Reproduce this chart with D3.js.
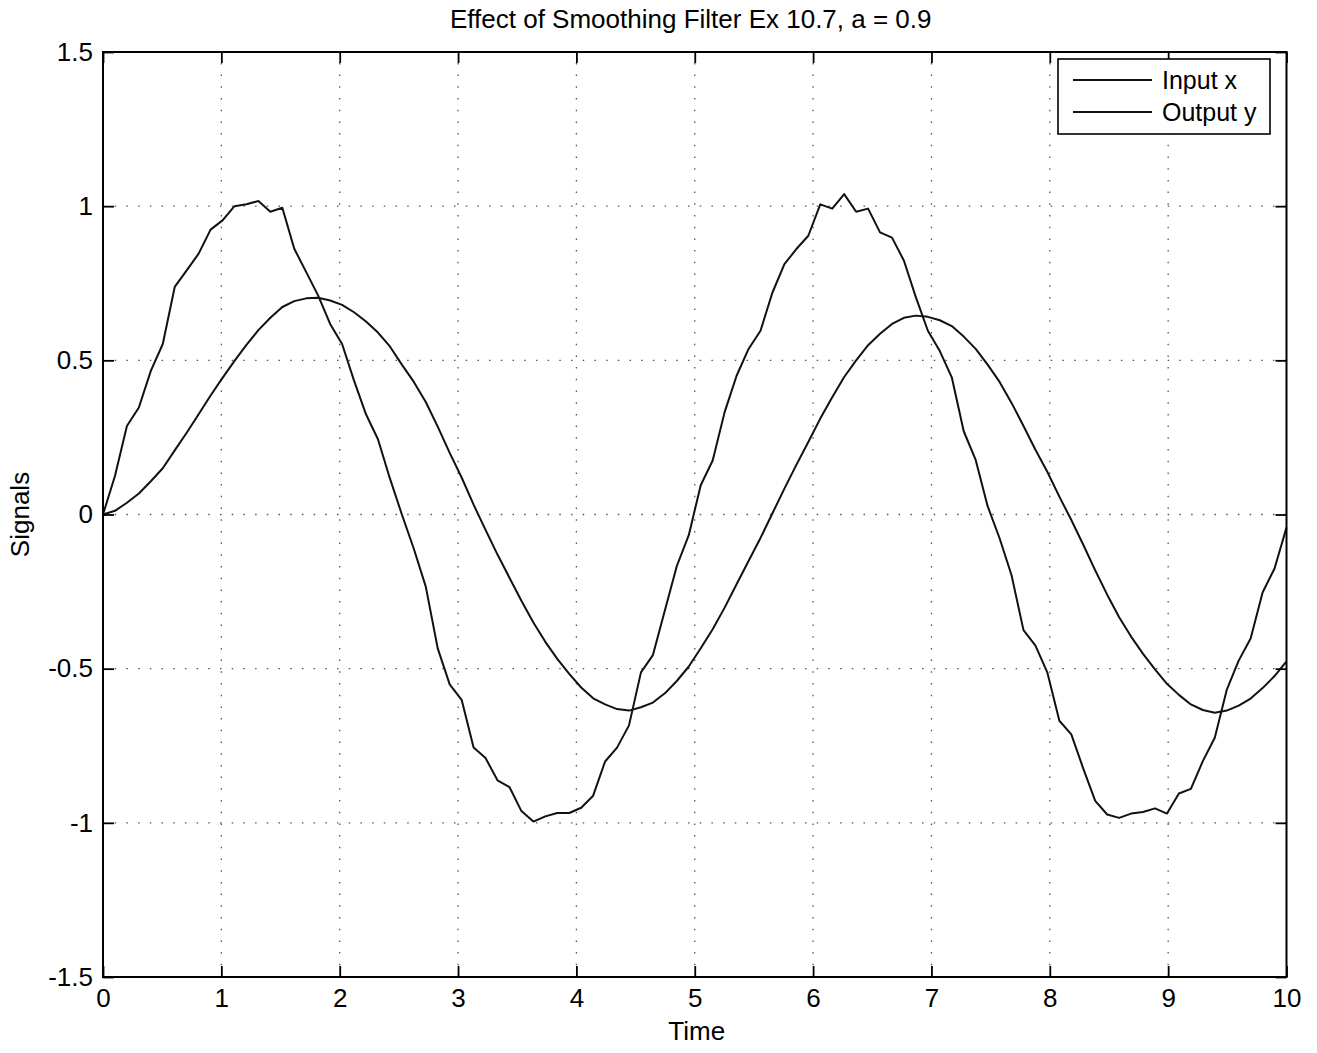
<!DOCTYPE html>
<html>
<head>
<meta charset="utf-8">
<script src="https://cdn.jsdelivr.net/npm/d3@7"></script>
<style>
  html, body { margin: 0; padding: 0; background: #fff; }
  svg text { font-family: "Liberation Sans", Arial, Helvetica, sans-serif; fill: #000; }
</style>
</head>
<body>
<svg id="chart" width="1317" height="1053"></svg>
<script>
// ---------------- data ----------------
const titleText = "Effect of Smoothing Filter Ex 10.7, a = 0.9";
const xLabelText = "Time";
const yLabelText = "Signals";
const seriesNames = ["Input x", "Output y"];

const xTicks = [0, 1, 2, 3, 4, 5, 6, 7, 8, 9, 10];
const xTickLabels = ["0", "1", "2", "3", "4", "5", "6", "7", "8", "9", "10"];
const yTicks = [-1.5, -1, -0.5, 0, 0.5, 1, 1.5];
const yTickLabels = ["-1.5", "-1", "-0.5", "0", "0.5", "1", "1.5"];

// sample times: 100 samples spanning 0..10
const nSamples = 100;
const timeStart = 0, timeEnd = 10;

// Input x (noisy sine), one value per sample
const inputX = [
  0.00, 0.125, 0.287, 0.347, 0.466, 0.553, 0.738, 0.792, 0.846, 0.924,
  0.954, 1.000, 1.006, 1.017, 0.982, 0.995, 0.862, 0.786, 0.710, 0.618,
  0.553, 0.434, 0.325, 0.244, 0.117, 0.000, -0.111, -0.234, -0.434, -0.551,
  -0.601, -0.756, -0.790, -0.862, -0.884, -0.962, -0.996, -0.979, -0.968, -0.968,
  -0.951, -0.912, -0.801, -0.756, -0.684, -0.512, -0.456, -0.311, -0.167, -0.067,
  0.095, 0.175, 0.332, 0.450, 0.537, 0.596, 0.720, 0.812, 0.861, 0.904,
  1.006, 0.992, 1.039, 0.982, 0.992, 0.915, 0.898, 0.823, 0.704, 0.596,
  0.530, 0.445, 0.270, 0.177, 0.027, -0.077, -0.197, -0.375, -0.425, -0.513,
  -0.669, -0.713, -0.824, -0.929, -0.973, -0.984, -0.970, -0.965, -0.953, -0.970,
  -0.905, -0.890, -0.800, -0.724, -0.569, -0.474, -0.402, -0.253, -0.175, -0.042
];

// Output y (smoothed), one value per sample
const outputY = [
  0.000, 0.012, 0.038, 0.068, 0.108, 0.150, 0.208, 0.265, 0.325, 0.386,
  0.443, 0.498, 0.550, 0.598, 0.638, 0.673, 0.692, 0.701, 0.703, 0.694,
  0.680, 0.656, 0.626, 0.590, 0.545, 0.486, 0.430, 0.365, 0.285, 0.200,
  0.120, 0.032, -0.050, -0.130, -0.205, -0.280, -0.350, -0.413, -0.468, -0.517,
  -0.561, -0.596, -0.616, -0.631, -0.636, -0.625, -0.610, -0.580, -0.540, -0.493,
  -0.434, -0.372, -0.302, -0.226, -0.151, -0.076, 0.004, 0.084, 0.161, 0.235,
  0.311, 0.380, 0.446, 0.500, 0.549, 0.586, 0.618, 0.638, 0.645, 0.641,
  0.630, 0.611, 0.577, 0.537, 0.486, 0.430, 0.362, 0.287, 0.210, 0.138,
  0.058, -0.018, -0.098, -0.181, -0.260, -0.333, -0.396, -0.452, -0.502, -0.549,
  -0.585, -0.616, -0.634, -0.643, -0.636, -0.620, -0.597, -0.563, -0.524, -0.476
];

// ---------------- drawing ----------------
const svg = d3.select("#chart");
const W = 1317, H = 1053;
const plot = { left: 103, right: 1286.5, top: 52, bottom: 977 };

const times = d3.range(nSamples).map(i => timeStart + (timeEnd - timeStart) * i / (nSamples - 1));

const x = d3.scaleLinear().domain([0, 10]).range([plot.left, plot.right]);
const y = d3.scaleLinear().domain([-1.5, 1.5]).range([plot.bottom, plot.top]);

svg.append("rect").attr("width", W).attr("height", H).attr("fill", "#fff");

// grid (dotted)
const grid = svg.append("g").attr("class", "grid");
grid.selectAll("line.vx").data(xTicks.slice(1, -1)).enter().append("line")
  .attr("x1", d => x(d)).attr("x2", d => x(d))
  .attr("y1", plot.bottom).attr("y2", plot.top)
  .attr("stroke", "#555").attr("stroke-width", 1.3)
  .attr("stroke-dasharray", "1.5,10.2");
grid.selectAll("line.hy").data(yTicks.slice(1, -1)).enter().append("line")
  .attr("y1", d => y(d)).attr("y2", d => y(d))
  .attr("x1", plot.left).attr("x2", plot.right)
  .attr("stroke", "#555").attr("stroke-width", 1.3)
  .attr("stroke-dasharray", "1.5,10.2");

// series
const line = d3.line().x((d, i) => x(times[i])).y(d => y(d));
svg.append("path").datum(inputX).attr("d", line)
  .attr("fill", "none").attr("stroke", "#111").attr("stroke-width", 2)
  .attr("stroke-linejoin", "round");
svg.append("path").datum(outputY).attr("d", line)
  .attr("fill", "none").attr("stroke", "#111").attr("stroke-width", 2)
  .attr("stroke-linejoin", "round");

// axes with inward ticks
const fontSize = 26;
const tickLen = 11;
const xFmt = d => xTickLabels[xTicks.indexOf(d)];
const yFmt = d => yTickLabels[yTicks.indexOf(d)];

const axB = svg.append("g").attr("transform", `translate(0,${plot.bottom})`)
  .call(d3.axisBottom(x).tickValues(xTicks).tickFormat(xFmt).tickSize(-tickLen).tickPadding(12));
const axT = svg.append("g").attr("transform", `translate(0,${plot.top})`)
  .call(d3.axisTop(x).tickValues(xTicks).tickFormat("").tickSize(-tickLen));
const axL = svg.append("g").attr("transform", `translate(${plot.left},0)`)
  .call(d3.axisLeft(y).tickValues(yTicks).tickFormat(yFmt).tickSize(-tickLen).tickPadding(10));
const axR = svg.append("g").attr("transform", `translate(${plot.right},0)`)
  .call(d3.axisRight(y).tickValues(yTicks).tickFormat("").tickSize(-tickLen));

[axB, axT, axL, axR].forEach(a => {
  a.select(".domain").remove();
  a.selectAll(".tick line").attr("stroke", "#000").attr("stroke-width", 1.8);
  a.selectAll("text").attr("font-size", fontSize)
    .attr("font-family", '"Liberation Sans", Arial, sans-serif').attr("fill", "#000");
});

// box
svg.append("rect")
  .attr("x", plot.left).attr("y", plot.top)
  .attr("width", plot.right - plot.left).attr("height", plot.bottom - plot.top)
  .attr("fill", "none").attr("stroke", "#000").attr("stroke-width", 2);

// title and labels
svg.append("text").attr("x", (plot.left + plot.right) / 2 - 4).attr("y", 28)
  .attr("text-anchor", "middle").attr("font-size", 26).text(titleText);
svg.append("text").attr("x", (plot.left + plot.right) / 2 + 2).attr("y", 1040)
  .attr("text-anchor", "middle").attr("font-size", fontSize).text(xLabelText);
svg.append("text").attr("transform", `translate(29,${(plot.top + plot.bottom) / 2}) rotate(-90)`)
  .attr("text-anchor", "middle").attr("font-size", fontSize).text(yLabelText);

// legend
const lg = svg.append("g");
const lgBox = { x: 1058, y: 59, w: 212, h: 75 };
lg.append("rect").attr("x", lgBox.x).attr("y", lgBox.y).attr("width", lgBox.w).attr("height", lgBox.h)
  .attr("fill", "#fff").attr("stroke", "#000").attr("stroke-width", 1.6);
seriesNames.forEach((name, i) => {
  const cy = 80 + i * 32;
  lg.append("line").attr("x1", 1073).attr("x2", 1152).attr("y1", cy).attr("y2", cy)
    .attr("stroke", "#111").attr("stroke-width", 2);
  lg.append("text").attr("x", 1162).attr("y", cy).attr("dy", "0.36em")
    .attr("font-size", fontSize - 1).text(name);
});
</script>
</body>
</html>
